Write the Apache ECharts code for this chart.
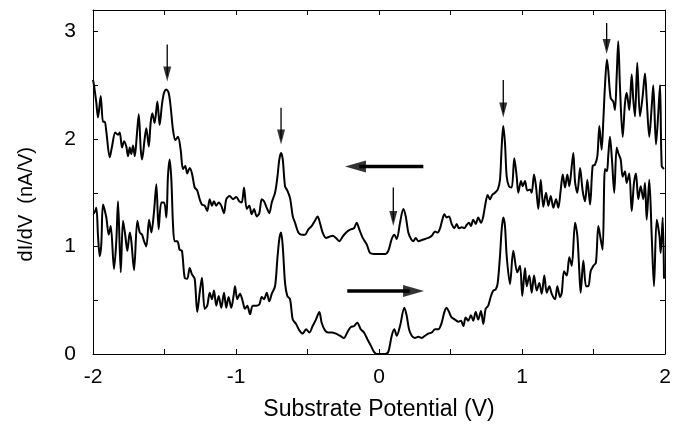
<!DOCTYPE html>
<html>
<head>
<meta charset="utf-8">
<script src="https://cdn.jsdelivr.net/npm/echarts@6/dist/echarts.min.js"></script>
<style>
  html, body { margin: 0; padding: 0; background: #fff; }
  #chart { width: 679px; height: 426px; }
</style>
</head>
<body>
<div id="chart"></div>
<script>
// sweep towards negative bias (upper trace) [V, nA/V]
const upperSweep = [
  [-2.000,2.55],[-1.993,2.50],[-1.977,2.34],[-1.965,2.20],[-1.946,2.40],[-1.930,2.16],[-1.918,2.16],[-1.907,2.07],
  [-1.883,1.83],[-1.867,1.93],[-1.844,2.06],[-1.825,2.04],[-1.813,2.06],[-1.797,1.92],[-1.783,1.98],[-1.767,1.93],
  [-1.755,1.84],[-1.743,1.92],[-1.732,1.86],[-1.720,1.94],[-1.708,1.84],[-1.692,2.06],[-1.680,2.23],[-1.666,1.90],
  [-1.657,1.81],[-1.638,2.01],[-1.627,2.10],[-1.610,1.93],[-1.597,2.15],[-1.585,2.24],[-1.569,2.15],[-1.550,2.35],
  [-1.534,2.13],[-1.517,2.33],[-1.503,2.43],[-1.487,2.46],[-1.471,2.43],[-1.457,2.30],[-1.441,2.09],[-1.424,1.99],
  [-1.406,2.02],[-1.387,1.90],[-1.371,1.72],[-1.355,1.75],[-1.341,1.68],[-1.324,1.73],[-1.308,1.68],[-1.289,1.55],
  [-1.271,1.52],[-1.254,1.44],[-1.238,1.39],[-1.219,1.38],[-1.201,1.33],[-1.184,1.44],[-1.168,1.38],[-1.154,1.42],
  [-1.138,1.38],[-1.121,1.41],[-1.103,1.38],[-1.084,1.31],[-1.068,1.44],[-1.044,1.47],[-1.021,1.44],[-0.998,1.46],
  [-0.977,1.42],[-0.960,1.41],[-0.944,1.55],[-0.925,1.35],[-0.907,1.38],[-0.890,1.30],[-0.874,1.35],[-0.855,1.28],
  [-0.837,1.31],[-0.820,1.44],[-0.804,1.42],[-0.785,1.36],[-0.767,1.31],[-0.750,1.41],[-0.727,1.50],[-0.711,1.64],
  [-0.697,1.81],[-0.685,1.87],[-0.673,1.81],[-0.657,1.56],[-0.641,1.52],[-0.622,1.45],[-0.603,1.28],[-0.587,1.22],
  [-0.564,1.13],[-0.541,1.11],[-0.517,1.11],[-0.494,1.16],[-0.471,1.19],[-0.448,1.24],[-0.429,1.28],[-0.413,1.22],
  [-0.394,1.13],[-0.371,1.08],[-0.348,1.09],[-0.324,1.10],[-0.301,1.08],[-0.278,1.05],[-0.250,1.10],[-0.222,1.14],
  [-0.198,1.16],[-0.175,1.17],[-0.156,1.22],[-0.138,1.16],[-0.114,1.08],[-0.086,1.02],[-0.063,0.94],[-0.035,0.93],
  [0.007,0.93],[0.042,0.93],[0.065,0.96],[0.089,1.07],[0.107,1.11],[0.124,1.07],[0.147,1.22],[0.170,1.35],
  [0.187,1.28],[0.205,1.13],[0.224,1.07],[0.240,1.05],[0.257,1.08],[0.275,1.05],[0.299,1.06],[0.322,1.07],
  [0.345,1.08],[0.369,1.10],[0.392,1.14],[0.410,1.13],[0.427,1.17],[0.443,1.25],[0.457,1.30],[0.473,1.27],
  [0.490,1.28],[0.508,1.21],[0.527,1.17],[0.543,1.21],[0.559,1.17],[0.578,1.18],[0.597,1.17],[0.613,1.20],
  [0.629,1.22],[0.643,1.19],[0.659,1.25],[0.676,1.21],[0.694,1.27],[0.713,1.22],[0.729,1.28],[0.746,1.41],
  [0.760,1.48],[0.776,1.44],[0.792,1.48],[0.811,1.50],[0.830,1.53],[0.846,1.62],[0.858,1.93],[0.869,2.12],
  [0.881,1.96],[0.893,1.65],[0.909,1.56],[0.928,1.55],[0.946,1.82],[0.963,1.65],[0.974,1.50],[0.993,1.61],
  [1.005,1.56],[1.021,1.61],[1.037,1.52],[1.056,1.53],[1.068,1.50],[1.084,1.67],[1.098,1.56],[1.114,1.35],
  [1.131,1.62],[1.149,1.37],[1.168,1.50],[1.184,1.38],[1.201,1.47],[1.219,1.36],[1.238,1.44],[1.254,1.36],
  [1.271,1.53],[1.285,1.67],[1.301,1.55],[1.317,1.67],[1.331,1.56],[1.348,1.75],[1.359,1.87],[1.371,1.60],
  [1.387,1.50],[1.406,1.73],[1.424,1.52],[1.441,1.42],[1.457,1.62],[1.476,1.39],[1.494,1.75],[1.510,1.76],
  [1.527,1.84],[1.541,2.12],[1.557,1.90],[1.569,2.18],[1.580,2.49],[1.594,2.74],[1.603,2.64],[1.620,2.38],
  [1.638,2.35],[1.650,2.27],[1.662,2.58],[1.673,2.91],[1.685,2.49],[1.704,2.02],[1.720,2.33],[1.732,2.43],
  [1.750,2.27],[1.767,2.60],[1.778,2.37],[1.790,2.21],[1.806,2.71],[1.825,2.21],[1.844,2.40],[1.860,2.61],
  [1.872,2.37],[1.890,2.02],[1.907,2.30],[1.918,2.50],[1.937,1.95],[1.953,2.24],[1.965,2.50],[1.977,1.75],
  [1.993,1.72]
];

// sweep towards positive bias (lower trace)
const lowerSweep = [
  [-2.000,1.31],[-1.993,1.31],[-1.977,1.36],[-1.965,1.10],[-1.953,0.91],[-1.942,1.02],[-1.930,1.39],[-1.907,1.27],
  [-1.890,1.11],[-1.876,1.19],[-1.853,0.79],[-1.837,1.05],[-1.825,1.42],[-1.806,0.76],[-1.790,1.24],[-1.774,1.10],
  [-1.760,0.96],[-1.743,1.13],[-1.732,1.05],[-1.713,0.78],[-1.690,1.24],[-1.673,1.13],[-1.657,1.11],[-1.643,1.05],
  [-1.627,1.00],[-1.608,1.25],[-1.592,1.13],[-1.573,1.33],[-1.557,1.58],[-1.541,1.16],[-1.522,1.41],[-1.503,1.41],
  [-1.487,1.27],[-1.476,1.65],[-1.464,1.81],[-1.452,1.62],[-1.441,1.22],[-1.429,1.05],[-1.410,1.05],[-1.394,0.97],
  [-1.378,0.96],[-1.359,0.71],[-1.341,0.70],[-1.324,0.80],[-1.308,0.74],[-1.289,0.70],[-1.271,0.39],[-1.254,0.57],
  [-1.238,0.71],[-1.219,0.42],[-1.201,0.45],[-1.184,0.57],[-1.168,0.51],[-1.154,0.59],[-1.138,0.45],[-1.121,0.54],
  [-1.103,0.43],[-1.084,0.57],[-1.068,0.43],[-1.052,0.53],[-1.033,0.43],[-1.016,0.55],[-1.007,0.63],[-0.991,0.51],
  [-0.972,0.56],[-0.953,0.49],[-0.937,0.42],[-0.921,0.45],[-0.902,0.37],[-0.883,0.45],[-0.860,0.45],[-0.837,0.46],
  [-0.820,0.53],[-0.804,0.51],[-0.785,0.57],[-0.767,0.49],[-0.750,0.56],[-0.727,0.63],[-0.711,0.88],[-0.697,1.07],
  [-0.685,1.13],[-0.673,1.00],[-0.657,0.66],[-0.641,0.54],[-0.622,0.51],[-0.603,0.32],[-0.580,0.28],[-0.557,0.22],
  [-0.534,0.19],[-0.510,0.23],[-0.487,0.20],[-0.464,0.26],[-0.441,0.32],[-0.417,0.39],[-0.401,0.29],[-0.378,0.22],
  [-0.355,0.20],[-0.331,0.20],[-0.301,0.19],[-0.273,0.17],[-0.245,0.15],[-0.222,0.20],[-0.198,0.25],[-0.175,0.26],
  [-0.152,0.29],[-0.128,0.23],[-0.105,0.20],[-0.082,0.14],[-0.058,0.08],[-0.035,0.02],[-0.016,0.00],[0.042,0.00],
  [0.065,0.02],[0.089,0.17],[0.107,0.23],[0.124,0.17],[0.147,0.26],[0.177,0.43],[0.193,0.36],[0.210,0.23],
  [0.229,0.17],[0.252,0.15],[0.275,0.16],[0.299,0.15],[0.322,0.17],[0.345,0.19],[0.369,0.20],[0.392,0.23],
  [0.415,0.23],[0.438,0.29],[0.457,0.39],[0.473,0.43],[0.490,0.39],[0.508,0.34],[0.531,0.32],[0.555,0.30],
  [0.573,0.31],[0.590,0.26],[0.606,0.34],[0.624,0.31],[0.643,0.36],[0.659,0.31],[0.676,0.39],[0.694,0.32],
  [0.713,0.40],[0.729,0.28],[0.746,0.42],[0.764,0.45],[0.783,0.54],[0.799,0.59],[0.816,0.60],[0.830,0.66],
  [0.846,0.91],[0.858,1.16],[0.869,1.27],[0.881,1.19],[0.893,0.91],[0.916,0.65],[0.939,0.96],[0.967,0.76],
  [0.986,0.82],[1.002,0.54],[1.021,0.80],[1.033,0.63],[1.051,0.73],[1.068,0.57],[1.084,0.73],[1.103,0.59],
  [1.121,0.66],[1.138,0.56],[1.156,0.73],[1.173,0.57],[1.191,0.63],[1.208,0.56],[1.231,0.51],[1.247,0.63],
  [1.266,0.53],[1.278,0.57],[1.294,0.77],[1.313,0.73],[1.331,0.90],[1.348,0.82],[1.371,1.22],[1.387,1.10],
  [1.401,0.76],[1.410,0.57],[1.429,0.87],[1.448,0.63],[1.464,0.63],[1.480,0.77],[1.499,0.82],[1.517,0.85],
  [1.534,1.19],[1.550,1.07],[1.564,0.97],[1.580,1.72],[1.594,1.70],[1.603,1.84],[1.615,2.02],[1.629,1.81],
  [1.645,1.50],[1.662,1.92],[1.673,1.87],[1.690,1.81],[1.704,1.65],[1.720,1.70],[1.732,1.59],[1.750,1.68],
  [1.767,1.33],[1.783,1.59],[1.797,1.68],[1.813,1.44],[1.830,1.56],[1.848,1.44],[1.860,1.59],[1.872,1.25],
  [1.890,1.62],[1.907,1.10],[1.923,0.63],[1.942,1.25],[1.961,1.10],[1.970,0.94],[1.984,1.27],[1.993,0.70]
];

// peak markers: [x, top of shaft, arrow tip]
const peakArrows = [
  [-1.481, 2.88, 2.535],
  [-0.685, 2.29, 1.95],
  [0.100, 1.55, 1.19],
  [0.869, 2.55, 2.20],
  [1.592, 3.08, 2.79]
];
// sweep direction arrows: [tail x, tip x, y]
const sweepArrows = [
  [0.310, -0.238, 1.745],
  [-0.222, 0.315, 0.587]
];

const FONT = 'Liberation Sans, Arial, sans-serif';
const intLabel = v => (Number.isInteger(v) ? String(v) : '');

const tick = { show: true, inside: true, length: 5, lineStyle: { color: '#000', width: 1 } };
const axLine = { show: true, onZero: false, lineStyle: { color: '#000', width: 1 } };

const chart = echarts.init(document.getElementById('chart'), null, { renderer: 'canvas' });

const series = [
  {
    type: 'line', data: upperSweep, showSymbol: false, smooth: 0.3,
    lineStyle: { color: '#000', width: 2 }, z: 3
  },
  {
    type: 'line', data: lowerSweep, showSymbol: false, smooth: 0.3,
    lineStyle: { color: '#000', width: 2 }, z: 3
  }
];

// thin vertical arrows marking peaks
peakArrows.forEach(a => {
  series.push({
    type: 'line', data: [[a[0], a[1]], [a[0], a[2] + 0.05]], showSymbol: false,
    lineStyle: { color: '#000', width: 1.3 }, z: 4
  });
});
series.push({
  type: 'scatter', data: peakArrows.map(a => [a[0], a[2]]),
  symbol: 'triangle', symbolSize: [8, 15], symbolRotate: 180, symbolOffset: [0, -7.5],
  itemStyle: { color: '#000' }, z: 5
});

// thick horizontal arrows for sweep direction
sweepArrows.forEach(a => {
  const dir = a[1] > a[0] ? 1 : -1;
  series.push({
    type: 'line', data: [[a[0], a[2]], [a[1] - dir * 0.1, a[2]]], showSymbol: false,
    lineStyle: { color: '#000', width: 3.5, cap: 'butt' }, z: 4
  });
  series.push({
    type: 'scatter', data: [[a[1], a[2]]],
    symbol: 'triangle', symbolSize: [12, 21],
    symbolRotate: dir > 0 ? -90 : 90, symbolOffset: [-dir * 10.5, 0],
    itemStyle: { color: '#000' }, z: 5
  });
});

chart.setOption({
  animation: false,
  backgroundColor: '#fff',
  grid: { left: 93, right: 14, top: 10, bottom: 72 },
  xAxis: [
    {
      type: 'value', min: -2, max: 2, interval: 0.5, position: 'bottom',
      axisLine: axLine, axisTick: tick, splitLine: { show: false },
      axisLabel: { formatter: intLabel, color: '#000', fontSize: 21, fontFamily: FONT, margin: 13 },
      name: 'Substrate Potential (V)', nameLocation: 'middle', nameGap: 44,
      nameTextStyle: { color: '#000', fontSize: 23, fontFamily: FONT }
    },
    {
      type: 'value', min: -2, max: 2, interval: 0.5, position: 'top',
      axisLine: axLine, axisTick: tick, splitLine: { show: false }, axisLabel: { show: false }
    }
  ],
  yAxis: [
    {
      type: 'value', min: 0, max: 3.2, interval: 0.5, position: 'left',
      axisLine: axLine, axisTick: tick, splitLine: { show: false },
      axisLabel: { formatter: intLabel, color: '#000', fontSize: 21, fontFamily: FONT, margin: 17 },
      name: 'dI/dV  (nA/V)        ', nameLocation: 'middle', nameGap: 57,
      nameTextStyle: { color: '#000', fontSize: 20, fontFamily: FONT }
    },
    {
      type: 'value', min: 0, max: 3.2, interval: 0.5, position: 'right',
      axisLine: axLine, axisTick: tick, splitLine: { show: false }, axisLabel: { show: false }
    }
  ],
  series: series
});
</script>
</body>
</html>
